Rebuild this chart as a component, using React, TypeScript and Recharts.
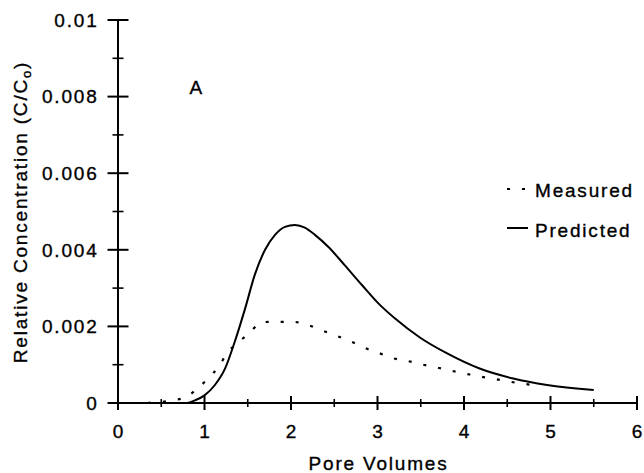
import React from 'react';
import { LineChart, Line, XAxis, YAxis, Legend, ReferenceDot, Label } from 'recharts';

// ---- data ----
const PRED_PV = [0, 0.5, 0.8, 0.89, 1.0, 1.12, 1.24, 1.35, 1.47, 1.58, 1.7, 1.815, 1.93, 2.046, 2.16, 2.277, 2.43, 2.62, 2.82, 3.01, 3.2, 3.49, 3.8, 4.18, 4.57, 4.96, 5.5];
const PRED_C = [0, 0, 0, 0.00007, 0.0002, 0.00047, 0.00091, 0.0016, 0.00247, 0.00334, 0.004, 0.00439, 0.0046, 0.00465, 0.00458, 0.00439, 0.00408, 0.0036, 0.00308, 0.0026, 0.00221, 0.00171, 0.0013, 0.0009, 0.00064, 0.00047, 0.00034];

const MEAS_PV = [0, 0.23, 0.41, 0.6, 0.77, 0.92, 1.05, 1.17, 1.26, 1.39, 1.53, 1.66, 1.83, 2.02, 2.19, 2.35, 2.53, 2.68, 2.85, 3.01, 3.18, 3.36, 3.53, 3.7, 3.88, 4.05, 4.24, 4.42, 4.6, 4.8];
const MEAS_C = [0, 0, 0.00001, 0.00006, 0.00014, 0.00038, 0.00066, 0.00097, 0.0013, 0.00158, 0.00185, 0.00211, 0.00212, 0.00212, 0.00204, 0.0019, 0.00175, 0.00162, 0.00144, 0.00131, 0.00117, 0.00109, 0.001, 0.00092, 0.00083, 0.00075, 0.00067, 0.0006, 0.00053, 0.00047];

const X_TICKS = [0, 0.5, 1, 1.5, 2, 2.5, 3, 3.5, 4, 4.5, 5, 5.5, 6];
const X_TICK_LABELS = ['0', '1', '2', '3', '4', '5', '6'];
const Y_TICKS = [0, 0.001, 0.002, 0.003, 0.004, 0.005, 0.006, 0.007, 0.008, 0.009, 0.01];
const Y_TICK_LABELS = ['0', '0.002', '0.004', '0.006', '0.008', '0.01'];

const SERIES_NAMES = ['Measured', 'Predicted'];
const X_TITLE = 'Pore Volumes';
const Y_TITLE = 'Relative Concentration (C/C';
const PANEL_LABEL = 'A';
const PANEL_LABEL_POS = { x: 0.9, y: 0.00824 };

const predData = PRED_PV.map((x, i) => ({ x, y: PRED_C[i] }));
const measData = MEAS_PV.map((x, i) => ({ x, y: MEAS_C[i] }));

const FONT = '"Liberation Sans", Arial, Helvetica, sans-serif';
const FS = 19;
const LS = 1.8;
const TXT = { fontSize: FS, letterSpacing: LS, fontFamily: FONT, fill: '#000', stroke: '#000', strokeWidth: 0.35 };

const XTick = (props: any) => {
  const { x, y, payload } = props;
  const v = payload.value;
  const major = Math.abs(v - Math.round(v)) < 1e-9;
  const len = major ? 7 : 4;
  return (
    <g>
      <line x1={x} x2={x} y1={y - len} y2={y + len} stroke="#000" strokeWidth={major ? 2 : 1.6} />
      {major && (
        <text x={x + LS / 2} y={y + 28} dy="0.36em" textAnchor="middle" {...TXT}>
          {X_TICK_LABELS[Math.round(v)]}
        </text>
      )}
    </g>
  );
};

const YTick = (props: any) => {
  const { x, y, payload } = props;
  const k = Math.round(payload.value * 1000);
  const major = k % 2 === 0;
  const len = major ? 10.5 : 5.5;
  return (
    <g>
      <line x1={x - len} x2={x + len} y1={y} y2={y} stroke="#000" strokeWidth={major ? 2 : 1.6} />
      {major && (
        <text x={x - 19.5} y={y} dy="0.36em" textAnchor="end" {...TXT}>
          {Y_TICK_LABELS[k / 2]}
        </text>
      )}
    </g>
  );
};

const XTitle = (props: any) => {
  const vb = props.viewBox;
  return (
    <text x={vb.x + vb.width / 2 + 1} y={vb.y + 67} textAnchor="middle" {...TXT}>
      {X_TITLE}
    </text>
  );
};

const YTitle = (props: any) => {
  const vb = props.viewBox;
  const cx = vb.x + 8.7;
  const cy = vb.y + vb.height / 2 + 0.5;
  return (
    <text x={cx} y={cy} transform={`rotate(-90, ${cx}, ${cy})`} textAnchor="middle" {...TXT}>
      {Y_TITLE}
      <tspan fontSize={13} dy={4}>o</tspan>
      <tspan dy={-4}>)</tspan>
    </text>
  );
};

const PanelLabel = (props: any) => (
  <text x={props.cx} y={props.cy} dy="0.36em" textAnchor="middle" {...TXT} letterSpacing={0}>
    {PANEL_LABEL}
  </text>
);

const renderLegend = () => (
  <svg width={144} height={80} style={{ display: 'block' }}>
    <line x1={7} x2={28} y1={19} y2={19} stroke="#000" strokeWidth={2} strokeDasharray="3 12" />
    <text x={35} y={27} {...TXT}>{SERIES_NAMES[0]}</text>
    <line x1={7} x2={28} y1={58} y2={58} stroke="#000" strokeWidth={2} />
    <text x={35} y={67} {...TXT}>{SERIES_NAMES[1]}</text>
  </svg>
);

export default function App() {
  return (
    <div style={{ position: 'absolute', left: 0, top: 0, width: 644, height: 473, background: '#fff', fontFamily: FONT }}>
      <LineChart width={644} height={473} margin={{ top: 20, right: 7, bottom: 0, left: 18 }}>
        <XAxis
          type="number"
          dataKey="x"
          domain={[0, 6]}
          ticks={X_TICKS}
          interval={0}
          tick={<XTick />}
          tickLine={false}
          tickSize={0}
          tickMargin={0}
          axisLine={{ stroke: '#000', strokeWidth: 2 }}
          height={70}
          allowDataOverflow
        >
          <Label content={<XTitle />} />
        </XAxis>
        <YAxis
          type="number"
          dataKey="y"
          domain={[0, 0.01]}
          ticks={Y_TICKS}
          interval={0}
          tick={<YTick />}
          tickLine={false}
          tickSize={0}
          tickMargin={0}
          axisLine={{ stroke: '#000', strokeWidth: 2 }}
          width={100}
          allowDataOverflow
        >
          <Label content={<YTitle />} />
        </YAxis>
        <Legend layout="vertical" align="center" verticalAlign="middle" content={renderLegend}
          wrapperStyle={{ position: 'absolute', left: 500, top: 170, width: 144, height: 80 }} />
        <Line data={measData} dataKey="y" name={SERIES_NAMES[0]} type="monotone" stroke="#000" strokeWidth={2.2}
          strokeDasharray="3 12" dot={false} activeDot={false} isAnimationActive={false} />
        <Line data={predData} dataKey="y" name={SERIES_NAMES[1]} type="monotone" stroke="#000" strokeWidth={2}
          dot={false} activeDot={false} isAnimationActive={false} />
        <ReferenceDot x={PANEL_LABEL_POS.x} y={PANEL_LABEL_POS.y} r={0} shape={<PanelLabel />} />
      </LineChart>
    </div>
  );
}
